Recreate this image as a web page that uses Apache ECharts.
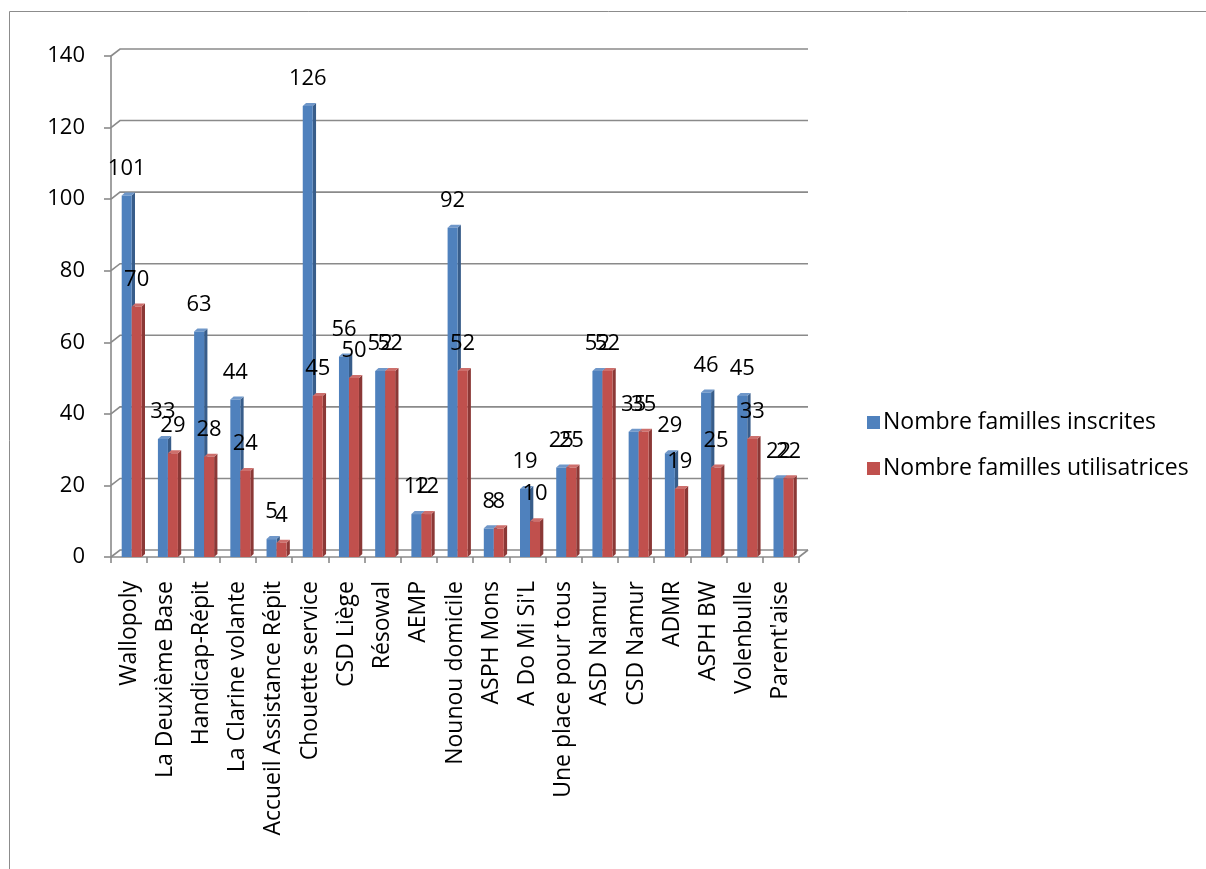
<!DOCTYPE html>
<html>
<head>
<meta charset="utf-8">
<script src="https://cdn.jsdelivr.net/npm/echarts@6/dist/echarts.min.js"></script>
<style>
html,body{margin:0;padding:0;background:#fff;}
#chart{width:1206px;height:869px;}
</style>
</head>
<body>
<div id="chart"></div>
<script>
const categories = ["Wallopoly","La Deuxième Base","Handicap-Répit","La Clarine volante","Accueil Assistance Répit","Chouette service","CSD Liège","Résowal","AEMP","Nounou domicile","ASPH Mons","A Do Mi Si'L","Une place pour tous","ASD Namur","CSD Namur","ADMR","ASPH BW","Volenbulle","Parent'aise"];
const inscrites = [101,33,63,44,5,126,56,52,12,92,8,19,25,52,35,29,46,45,22];
const utilisatrices = [70,29,28,24,4,45,50,52,12,52,8,10,25,52,35,19,25,33,22];
const yTicks = [0,20,40,60,80,100,120,140];
const seriesNames = ["Nombre familles inscrites","Nombre familles utilisatrices"];

const FONT = "'Open Sans', sans-serif";
const GRAY = '#8a8a8a';
const DX = 9, DY = 7;          // back wall offset
const BW = 10, SDX = 3.3, SDY = 3; // bar front width and depth

const palettes = [
  {front:'#4F81BD', side:'#385D8A', top:'#6F97C9'},
  {front:'#C0504D', side:'#8B3836', top:'#CD6F6C'}
];

function barRender(s){
  return function(params, api){
    const idx = api.value(0), val = api.value(1);
    const base = api.coord([idx, 0]);
    const top = api.coord([idx, val]);
    const bw = api.size([1,0])[0];
    const x0 = base[0] - bw/2 + 10.7 + s*BW;
    const pal = palettes[s];
    const y0 = base[1], y1 = top[1];
    return {
      type:'group',
      children:[
        {type:'polygon', shape:{points:[[x0+BW,y1],[x0+BW+SDX,y1-SDY],[x0+BW+SDX,y0-SDY],[x0+BW,y0]]}, style:{fill:pal.side}},
        {type:'polygon', shape:{points:[[x0,y1],[x0+SDX,y1-SDY],[x0+BW+SDX,y1-SDY],[x0+BW,y1]]}, style:{fill:pal.top}},
        {type:'rect', shape:{x:x0, y:y1, width:BW, height:y0-y1}, style:{fill:pal.front}},
        {type:'text', z2:10, style:{text:String(val), x:x0+BW/2, y:y1-27, align:'center', verticalAlign:'middle', font:'22px '+FONT, fill:'#000'}}
      ]
    };
  };
}

function decorRender(params, api){
  const v = api.value(1);
  const p = api.coord([0, v]);
  const bw = api.size([1,0])[0];
  const left = p[0] - bw/2;
  const right = left + bw*categories.length;
  const y = p[1];
  const children = [
    {type:'polyline', shape:{points:[[left,y],[left+DX,y-DY],[right+DX,y-DY]]}, style:{stroke:GRAY, lineWidth:1.6, fill:null}}
  ];
  if (v === 0) {
    children.push({type:'line', shape:{x1:right, y1:y, x2:right+DX, y2:y-DY}, style:{stroke:GRAY, lineWidth:1.6}});
    children.push({type:'line', shape:{x1:left, y1:y, x2:right, y2:y}, style:{stroke:GRAY, lineWidth:1.6}});
  }
  return {type:'group', children};
}

const chart = echarts.init(document.getElementById('chart'), null, {renderer:'canvas'});
chart.setOption({
  backgroundColor:'#fff',
  animation:false,
  textStyle:{fontFamily:FONT},
  graphic:[{type:'rect', shape:{x:9.5, y:11.5, width:1400, height:1000}, style:{fill:null, stroke:'#8c8c8c', lineWidth:1}, silent:true}],
  legend:{
    orient:'vertical', left:862, top:406,
    itemWidth:13, itemHeight:13, itemGap:23,
    icon:'rect',
    textStyle:{fontFamily:FONT, fontSize:23, color:'#000', padding:[0,0,0,-2]},
    data:seriesNames
  },
  grid:{left:111, right:407, top:56, bottom:312, containLabel:false},
  xAxis:{
    type:'category', data:categories, boundaryGap:true,
    axisLine:{show:false},
    axisTick:{show:true, alignWithLabel:false, length:6, lineStyle:{color:GRAY, width:1.6}},
    axisLabel:{rotate:90, margin:24, fontFamily:FONT, fontSize:23, color:'#000', interval:0},
    splitLine:{show:false}
  },
  yAxis:{
    type:'value', min:0, max:140, interval:20,
    axisLine:{show:true, lineStyle:{color:GRAY, width:1.6}},
    axisTick:{show:true, length:7, lineStyle:{color:GRAY, width:1.6}},
    axisLabel:{margin:26, fontFamily:FONT, fontSize:22, color:'#000'},
    splitLine:{show:false}
  },
  series:[
    {type:'custom', name:'decor', z:1, silent:true, renderItem:decorRender, data:yTicks.map(v=>[0,v]), clip:false, legendHoverLink:false},
    {type:'custom', name:seriesNames[0], z:2, renderItem:barRender(0), itemStyle:{color:palettes[0].front}, data:inscrites.map((v,i)=>[i,v]), clip:false},
    {type:'custom', name:seriesNames[1], z:3, renderItem:barRender(1), itemStyle:{color:palettes[1].front}, data:utilisatrices.map((v,i)=>[i,v]), clip:false}
  ]
});
</script>
</body>
</html>
